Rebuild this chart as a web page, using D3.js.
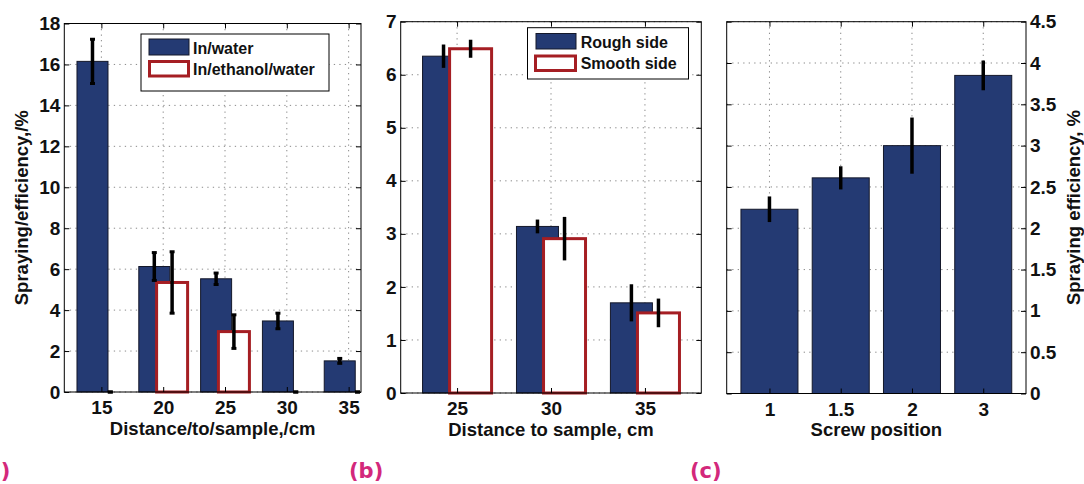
<!DOCTYPE html>
<html><head><meta charset="utf-8">
<script src="https://cdn.jsdelivr.net/npm/d3@7"></script>
<style>
html,body{margin:0;padding:0;background:#fff;}
svg{display:block;font-family:"Liberation Sans",Arial,Helvetica,sans-serif;}
</style></head><body>
<script>
// (a) spraying efficiency vs. distance for two precursor solutions
const distA = [15, 20, 25, 30, 35];
const waterA = [16.15, 6.13, 5.53, 3.47, 1.52];
const waterErrA = [1.08, 0.68, 0.28, 0.38, 0.12];
const ethanolA = [0, 5.35, 2.95, 0, 0];
const ethanolErrA = [0, 1.5, 0.82, 0, 0];
const yTicksA = [0, 2, 4, 6, 8, 10, 12, 14, 16, 18];
const legendA = ["In/water", "In/ethanol/water"];

// (b) rough vs. smooth side of the substrate
const distB = [25, 30, 35];
const roughB = [6.35, 3.14, 1.70];
const roughErrB = [0.22, 0.13, 0.35];
const smoothB = [6.49, 2.91, 1.51];
const smoothErrB = [0.17, 0.41, 0.27];
const yTicksB = [0, 1, 2, 3, 4, 5, 6, 7];
const legendB = ["Rough side", "Smooth side"];

// (c) efficiency vs. screw position
const screwC = ["1", "1.5", "2", "3"];
const effC = [2.23, 2.61, 3.0, 3.85];
const effErrC = [0.155, 0.14, 0.34, 0.18];
const yTicksC = [0, 0.5, 1, 1.5, 2, 2.5, 3, 3.5, 4, 4.5];

const BLUE = "#243a73", EDGE = "#14182a", RED = "#a51e23", PINK = "#d3287b";
const TICK_FONT = "19px", LABEL_FONT = "18.5px";

const svg = d3.select("body").append("svg").attr("width", 1084).attr("height", 484);

// grid + returns a layer for marks; axes/frame drawn later by finishPanel
function startPanel(p) {
  const g = svg.append("g");
  const grid = g.append("g").attr("stroke", "#8a8a8a").attr("stroke-width", 1)
    .attr("stroke-dasharray", "1.3,4.2");
  grid.selectAll("line.h").data(p.yTicks).join("line").attr("class", "h")
    .attr("x1", p.left).attr("x2", p.right)
    .attr("y1", d => p.y(d)).attr("y2", d => p.y(d));
  grid.selectAll("line.v").data(p.xTicks).join("line").attr("class", "v")
    .attr("x1", d => p.x(d)).attr("x2", d => p.x(d))
    .attr("y1", p.top).attr("y2", p.bottom);
  return g;
}

function finishPanel(g, p) {
  const yl = d3.axisLeft(p.y).tickValues(p.yTicks).tickSize(-5).tickPadding(4)
    .tickFormat(p.yRight ? "" : d => String(d));
  const yr = d3.axisRight(p.y).tickValues(p.yTicks).tickSize(-5).tickPadding(4)
    .tickFormat(p.yRight ? d => String(d) : "");
  const xb = d3.axisBottom(p.x).tickValues(p.xTicks).tickSize(-5).tickPadding(9)
    .tickFormat(p.xFmt || (d => String(d)));
  const xt = d3.axisTop(p.x).tickValues(p.xTicks).tickSize(-5).tickFormat("");
  const axes = [
    g.append("g").attr("transform", `translate(${p.left},0)`).call(yl),
    g.append("g").attr("transform", `translate(${p.right},0)`).call(yr),
    g.append("g").attr("transform", `translate(0,${p.bottom})`).call(xb),
    g.append("g").attr("transform", `translate(0,${p.top})`).call(xt)
  ];
  axes.forEach(a => {
    a.select(".domain").remove();
    a.selectAll("line").attr("stroke", "#000");
    a.selectAll("text").attr("fill", "#111").style("font-size", TICK_FONT)
      .style("font-weight", "bold").style("font-family", "Liberation Sans, Arial, sans-serif");
  });
  g.append("rect").attr("x", p.left).attr("y", p.top)
    .attr("width", p.right - p.left).attr("height", p.bottom - p.top)
    .attr("fill", "none").attr("stroke", "#000").attr("stroke-width", 1);
}

function errorBars(g, items, y, width, cap) {
  const e = g.append("g").attr("stroke", "#000");
  e.selectAll("line.eb").data(items).join("line").attr("class", "eb")
    .attr("stroke-width", 3.5)
    .attr("x1", d => d.cx).attr("x2", d => d.cx)
    .attr("y1", d => y(d.v + d.e)).attr("y2", d => y(d.v - d.e));
  if (cap) {
    const ends = items.flatMap(d => [{ cx: d.cx, yy: y(d.v + d.e) }, { cx: d.cx, yy: y(d.v - d.e) }]);
    e.selectAll("line.cap").data(ends).join("line").attr("class", "cap")
      .attr("stroke-width", 3)
      .attr("x1", d => d.cx - cap / 2).attr("x2", d => d.cx + cap / 2)
      .attr("y1", d => d.yy).attr("y2", d => d.yy);
  }
}

function legend(box, sw1, sw2, textX, base1, base2, labels) {
  const g = svg.append("g");
  g.append("rect").attr("x", box[0]).attr("y", box[1]).attr("width", box[2]).attr("height", box[3])
    .attr("fill", "#fff").attr("stroke", "#000").attr("stroke-width", 1);
  g.append("rect").attr("x", sw1[0]).attr("y", sw1[1]).attr("width", sw1[2]).attr("height", sw1[3])
    .attr("fill", BLUE).attr("stroke", EDGE).attr("stroke-width", 1);
  g.append("rect").attr("x", sw2[0]).attr("y", sw2[1]).attr("width", sw2[2]).attr("height", sw2[3])
    .attr("fill", "#fff").attr("stroke", RED).attr("stroke-width", 3);
  g.selectAll("text").data(labels).join("text")
    .attr("x", textX).attr("y", (d, i) => i ? base2 : base1)
    .attr("fill", "#111").style("font-size", "16px").style("font-weight", "bold").text(d => d);
}

function axisLabel(text, x, y, rotate) {
  svg.append("text").attr("text-anchor", "middle")
    .attr("transform", `translate(${x},${y})` + (rotate ? " rotate(-90)" : ""))
    .attr("fill", "#111").style("font-size", LABEL_FONT).style("font-weight", "bold").text(text);
}

function panelTag(text, x, y) {
  svg.append("text").attr("x", x).attr("y", y).attr("fill", PINK)
    .style("font-family", "DejaVu Sans, sans-serif").style("font-weight", "bold")
    .style("font-size", "21px").text(text);
}

// ---------------- panel (a) ----------------
{
  const p = { left: 64.3, right: 361, top: 23.5, bottom: 392 };
  p.x = d3.scaleLinear().domain([12, 36]).range([p.left, p.right]);
  p.y = d3.scaleLinear().domain([0, 18]).range([p.bottom, p.top]);
  p.xTicks = distA; p.yTicks = yTicksA;
  const g = startPanel(p);
  const off = 0.72, w = 31;
  const blue = distA.map((d, i) => ({ cx: p.x(d - off), v: waterA[i], e: waterErrA[i] }));
  const red = distA.map((d, i) => ({ cx: p.x(d + off), v: ethanolA[i], e: ethanolErrA[i] }));
  g.selectAll("rect.b").data(blue).join("rect").attr("class", "b")
    .attr("x", d => d.cx - w / 2).attr("width", w)
    .attr("y", d => p.y(d.v)).attr("height", d => p.y(0) - p.y(d.v))
    .attr("fill", BLUE).attr("stroke", EDGE).attr("stroke-width", 1);
  g.selectAll("rect.r").data(red.filter(d => d.v > 0)).join("rect").attr("class", "r")
    .attr("x", d => d.cx - w / 2).attr("width", w)
    .attr("y", d => p.y(d.v)).attr("height", d => p.y(0) - p.y(d.v))
    .attr("fill", "#fff").attr("stroke", RED).attr("stroke-width", 3);
  errorBars(g, blue, p.y, w, 5);
  errorBars(g, red, p.y, w, 5);
  finishPanel(g, p);
  legend([141, 34, 188, 57], [149, 39, 40, 16], [149.5, 61.5, 39, 14.5], 193, 53.5, 74.5, legendA);
  axisLabel("Distance/to/sample,/cm", (p.left + p.right) / 2, 435);
  axisLabel("Spraying/efficiency,/%", 27.5, (p.top + p.bottom) / 2, true);
  panelTag("(a)", -23, 477.5);
}

// ---------------- panel (b) ----------------
{
  const p = { left: 400.7, right: 701.3, top: 21.7, bottom: 393 };
  p.x = d3.scaleLinear().domain([22, 38]).range([p.left, p.right]);
  p.y = d3.scaleLinear().domain([0, 7]).range([p.bottom, p.top]);
  p.xTicks = distB; p.yTicks = yTicksB;
  const g = startPanel(p);
  const off = 0.72, w = 42;
  const blue = distB.map((d, i) => ({ cx: p.x(d - off), v: roughB[i], e: roughErrB[i] }));
  const red = distB.map((d, i) => ({ cx: p.x(d + off), v: smoothB[i], e: smoothErrB[i] }));
  g.selectAll("rect.b").data(blue).join("rect").attr("class", "b")
    .attr("x", d => d.cx - w / 2).attr("width", w)
    .attr("y", d => p.y(d.v)).attr("height", d => p.y(0) - p.y(d.v))
    .attr("fill", BLUE).attr("stroke", EDGE).attr("stroke-width", 1);
  g.selectAll("rect.r").data(red).join("rect").attr("class", "r")
    .attr("x", d => d.cx - w / 2).attr("width", w)
    .attr("y", d => p.y(d.v)).attr("height", d => p.y(0) - p.y(d.v))
    .attr("fill", "#fff").attr("stroke", RED).attr("stroke-width", 3);
  errorBars(g, blue, p.y, w, 0);
  errorBars(g, red, p.y, w, 0);
  finishPanel(g, p);
  legend([527.5, 27.7, 161, 51.3], [536, 33.5, 40, 15.5], [535.5, 56, 40, 14.5], 580.7, 47.7, 69, legendB);
  axisLabel("Distance to sample, cm", (p.left + p.right) / 2, 436);
  panelTag("(b)", 349, 477.5);
}

// ---------------- panel (c) ----------------
{
  const p = { left: 726.7, right: 1026, top: 21.7, bottom: 393.5, yRight: true };
  p.x = d3.scalePoint().domain(screwC).range([p.left, p.right]).padding(0.6);
  p.y = d3.scaleLinear().domain([0, 4.5]).range([p.bottom, p.top]);
  p.xTicks = screwC; p.yTicks = yTicksC;
  const g = startPanel(p);
  const w = p.x.step() * 0.8;
  const bars = screwC.map((s, i) => ({ cx: p.x(s), v: effC[i], e: effErrC[i] }));
  g.selectAll("rect.b").data(bars).join("rect").attr("class", "b")
    .attr("x", d => d.cx - w / 2).attr("width", w)
    .attr("y", d => p.y(d.v)).attr("height", d => p.y(0) - p.y(d.v))
    .attr("fill", BLUE).attr("stroke", EDGE).attr("stroke-width", 1);
  errorBars(g, bars, p.y, w, 0);
  finishPanel(g, p);
  axisLabel("Screw position", (p.left + p.right) / 2, 436);
  axisLabel("Spraying efficiency, %", 1080, (p.top + p.bottom) / 2, true);
  panelTag("(c)", 690, 477.5);
}
</script>
</body></html>
